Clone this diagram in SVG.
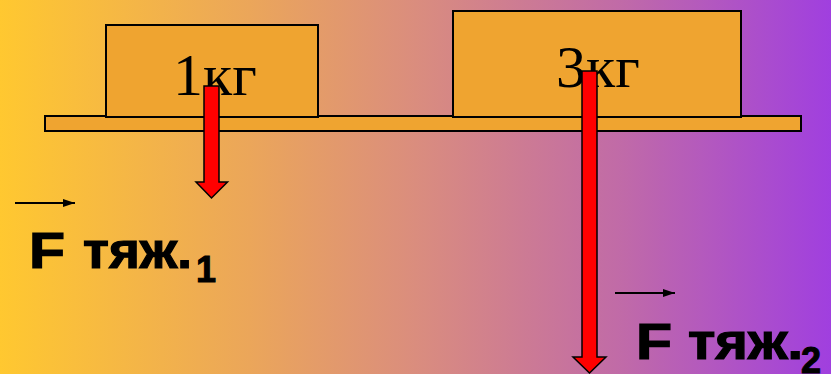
<svg xmlns="http://www.w3.org/2000/svg" width="831" height="374" viewBox="0 0 831 374">
<defs>
<linearGradient id="bg" x1="0" y1="0" x2="1" y2="0">
<stop offset="0" stop-color="#FFC830"/>
<stop offset="0.3" stop-color="#EBA65A"/>
<stop offset="0.5" stop-color="#DA8D7E"/>
<stop offset="0.75" stop-color="#C06AA8"/>
<stop offset="1" stop-color="#A03FDF"/>
</linearGradient>
<marker id="ah" viewBox="0 0 12 8" refX="12" refY="4" markerWidth="12" markerHeight="8" markerUnits="userSpaceOnUse" orient="auto">
<path d="M0,0 L12,4 L0,8 Z" fill="#000"/>
</marker>
</defs>
<style>
.box{fill:#EFA430;stroke:#000;stroke-width:2}
.mass{font-family:"Liberation Serif",serif;font-size:60px;fill:#000}
.force{fill:#FF0000;stroke:#000;stroke-width:1.5}
.vec{stroke:#000;stroke-width:2;fill:none}
.lbl{font-family:"Liberation Sans",Arial,sans-serif;font-weight:bold;font-size:50px;fill:#000;stroke:#000;stroke-width:1.2}
.sub{font-family:"Liberation Sans",Arial,sans-serif;font-weight:bold;font-size:36px;fill:#000;stroke:#000;stroke-width:1}
</style>
<rect width="831" height="374" fill="url(#bg)"/>
<g id="board"><rect class="box" x="45" y="116" width="756" height="15"/></g>
<g id="mass1">
<rect class="box" x="106" y="25" width="212" height="92"/>
<text class="mass" x="215" y="95" text-anchor="middle">1кг</text>
</g>
<g id="mass2">
<rect class="box" x="453" y="11" width="288" height="106"/>
<text class="mass" x="598" y="87" text-anchor="middle">3кг</text>
</g>
<g id="connectors">
<path class="force" d="M204,86 H219 V182 H227.5 L211.5,198 L196,182 H204 Z"/>
<path class="force" d="M582,71 H597 V357 H606 L589.5,373 L573,357 H582 Z"/>
<line class="vec" x1="15" y1="203" x2="75" y2="203" marker-end="url(#ah)"/>
<line class="vec" x1="615" y1="293" x2="675" y2="293" marker-end="url(#ah)"/>
</g>
<g id="label1">
<text class="lbl" x="29" y="268" textLength="36" lengthAdjust="spacingAndGlyphs">F</text>
<text class="lbl" x="83" y="268" textLength="109" lengthAdjust="spacingAndGlyphs">тяж.</text>
<text class="sub" x="196" y="282">1</text>
</g>
<g id="label2">
<text class="lbl" x="636" y="359" textLength="36" lengthAdjust="spacingAndGlyphs">F</text>
<text class="lbl" x="688" y="359" textLength="115" lengthAdjust="spacingAndGlyphs">тяж.</text>
<text class="sub" x="801" y="373">2</text>
</g>
</svg>
